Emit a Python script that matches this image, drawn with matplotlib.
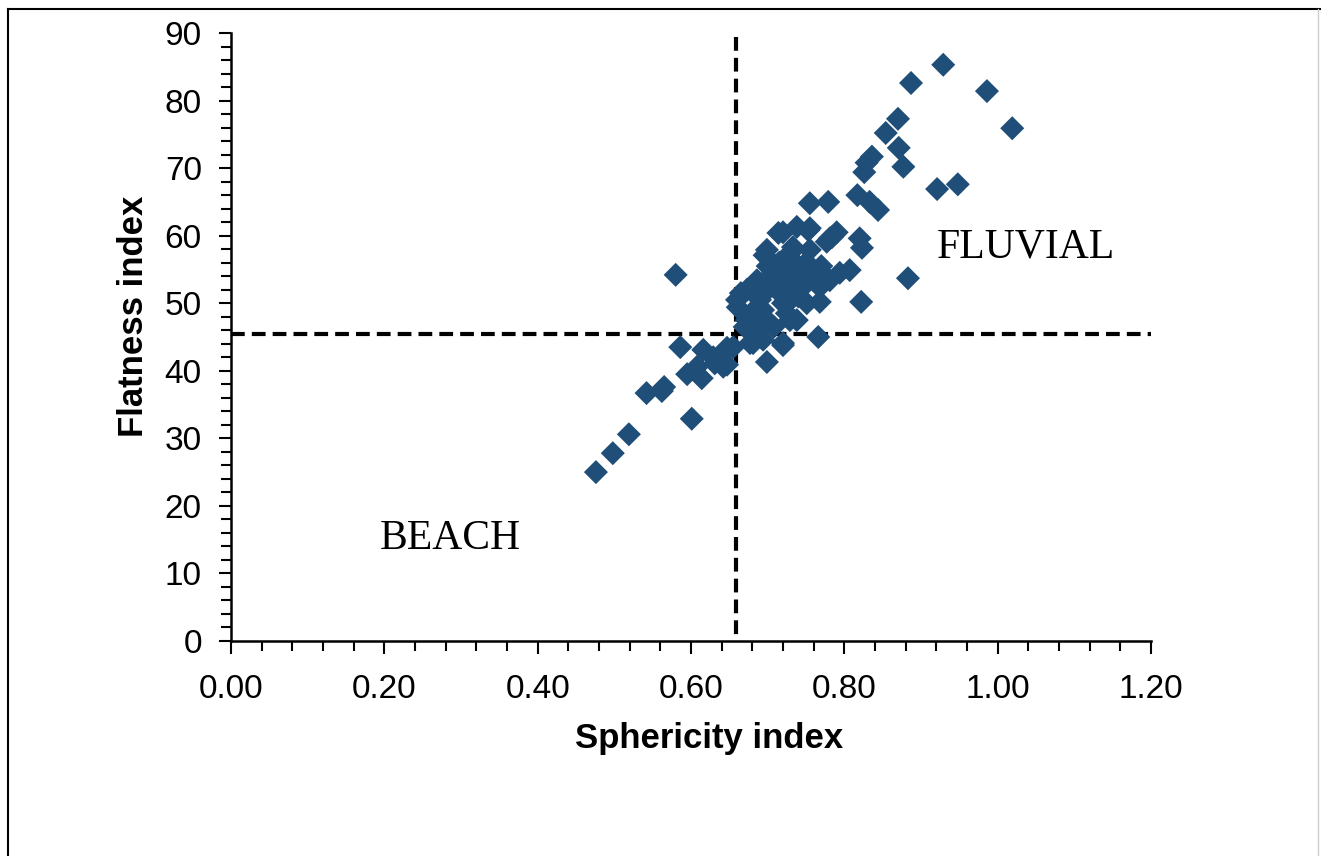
import matplotlib.pyplot as plt
from matplotlib.lines import Line2D

# Sphericity / flatness values
sphericity = [
    0.476, 0.498, 0.519, 0.542, 0.562, 0.565, 0.601, 0.586, 0.595, 0.614,
    0.616, 0.608, 0.631, 0.647, 0.629, 0.642, 0.655, 0.647, 0.580,
    0.670, 0.681, 0.677, 0.694, 0.699, 0.720, 0.720, 0.766, 0.661, 0.660,
    0.665, 0.673, 0.673, 0.694, 0.686, 0.699, 0.708, 0.725, 0.738, 0.729,
    0.686, 0.707, 0.720, 0.729, 0.746, 0.751, 0.716, 0.746, 0.696, 0.699,
    0.729, 0.733, 0.755, 0.714, 0.720, 0.738, 0.755, 0.753, 0.768, 0.768,
    0.781, 0.794, 0.807, 0.822, 0.777, 0.781, 0.790, 0.784, 0.820, 0.823,
    0.755, 0.779, 0.705, 0.715, 0.740, 0.760, 0.690, 0.700, 0.710, 0.725,
    0.735, 0.750, 0.680, 0.690, 0.730, 0.740, 0.760, 0.770, 0.700,
    0.817, 0.833, 0.844, 0.826, 0.829, 0.836, 0.877, 0.871, 0.854, 0.870,
    0.887, 0.929, 0.986, 1.019, 0.921, 0.948, 0.883,
]
flatness = [
    25.0, 27.8, 30.6, 36.7, 37.0, 37.6, 32.9, 43.5, 39.5, 38.9,
    43.1, 40.6, 41.1, 40.9, 42.0, 40.6, 43.5, 43.4, 54.2,
    46.5, 44.1, 44.1, 44.6, 41.3, 44.1, 43.8, 45.0, 49.4, 50.5,
    51.5, 47.5, 52.0, 49.0, 49.4, 47.5, 46.5, 48.5, 47.5, 47.5,
    53.4, 54.5, 50.0, 52.4, 53.4, 50.0, 51.5, 52.4, 57.1, 57.9,
    57.4, 58.3, 57.9, 60.4, 60.5, 61.3, 61.1, 60.8, 50.2, 52.4,
    53.4, 54.5, 54.9, 50.2, 59.1, 59.6, 60.5, 59.8, 59.6, 58.2,
    64.8, 65.0, 55.0, 56.0, 55.5, 55.0, 50.5, 52.0, 53.0, 54.0,
    56.0, 56.0, 48.0, 46.0, 50.5, 51.0, 54.0, 55.5, 55.5,
    66.0, 65.0, 63.8, 69.4, 70.8, 71.7, 70.2, 73.0, 75.2, 77.3,
    82.6, 85.3, 81.4, 75.9, 66.9, 67.6, 53.7,
]

# threshold lines
sph_limit = 0.659
flat_limit = 45.5

plt.rcParams['font.family'] = ['Liberation Sans', 'DejaVu Sans']

fig = plt.figure(figsize=(13.21, 8.56), dpi=100)
ax = fig.add_axes([231 / 1321, 1 - 641 / 856, 920 / 1321, 608 / 856])

ax.scatter(sphericity, flatness, marker='D', s=150, color='#1F4E79',
           edgecolors='none', zorder=3)

ax.plot([sph_limit, sph_limit], [89.4, 0], color='black', lw=3,
        dashes=(3.3, 1.7), zorder=2)
ax.plot([0, 1.2], [flat_limit, flat_limit], color='black', lw=3,
        dashes=(3.3, 1.7), zorder=2)

ax.text(0.194, 15.2, 'BEACH', family='Liberation Serif', fontsize=30,
        va='center', ha='left')
ax.text(0.921, 58.3, 'FLUVIAL', family='Liberation Serif', fontsize=30,
        va='center', ha='left')

ax.set_xlim(0, 1.2)
ax.set_ylim(0, 90)
ax.set_xticks([0, 0.2, 0.4, 0.6, 0.8, 1.0, 1.2])
ax.set_xticklabels(['0.00', '0.20', '0.40', '0.60', '0.80', '1.00', '1.20'])
ax.set_yticks(range(0, 91, 10))
ax.set_xticks([i * 0.04 for i in range(31)], minor=True)
ax.set_yticks(range(0, 91, 2), minor=True)
ax.tick_params(which='major', direction='out', length=9, width=1.5,
               labelsize=24)
ax.tick_params(axis='x', which='major', pad=15)
ax.tick_params(axis='y', which='major', pad=12)
ax.tick_params(which='minor', direction='out', length=7, width=1.5)

for side in ['top', 'right']:
    ax.spines[side].set_visible(False)
for side in ['left', 'bottom']:
    ax.spines[side].set_linewidth(1.8)

ax.set_xlabel('Sphericity index', fontsize=25, fontweight='bold')
ax.set_ylabel('Flatness index', fontsize=25, fontweight='bold')
ax.xaxis.label.set_va('center')
ax.yaxis.label.set_va('center')
ax.xaxis.set_label_coords(0.5196, -0.161)
ax.yaxis.set_label_coords(-0.1065, 0.5345)

# outer frame
fig.add_artist(Line2D([8 / 1321, 8 / 1321], [0, 1 - 9 / 856], color='black', lw=1.5))
fig.add_artist(Line2D([8 / 1321, 1], [1 - 9 / 856, 1 - 9 / 856], color='black', lw=1.5))
fig.add_artist(Line2D([1318 / 1321, 1318 / 1321], [0, 1 - 9 / 856], color='#cccccc', lw=1))

fig.savefig('out.png', dpi=100)
